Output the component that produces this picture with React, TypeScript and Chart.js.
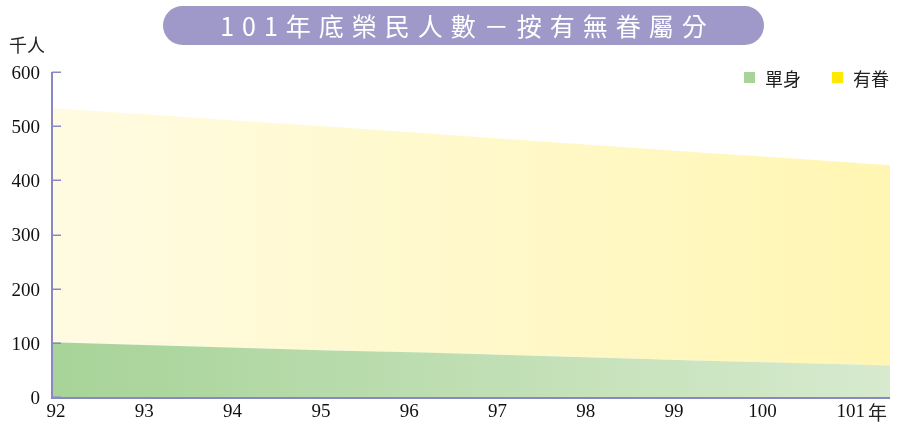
import React, { useEffect, useRef } from "react";
import { Chart, registerables } from "chart.js";

Chart.register(...registerables);

const years = [92, 93, 94, 95, 96, 97, 98, 99, 100, 101];
const xTickLabels = ["92", "93", "94", "95", "96", "97", "98", "99", "100", "101"];
const xUnit = "年";
const yUnit = "千人";
const single = [101, 96, 91, 86, 82, 77, 72, 67, 63, 58];
const withDependents = [432, 426, 419, 413, 405, 398, 391, 384, 377, 370];
const yTicks = [0, 100, 200, 300, 400, 500, 600];
const seriesNames = ["單身", "有眷"];
const title = "101年底榮民人數－按有無眷屬分";

const AXIS = "#8a88c4";
const CJK = '"Noto Sans CJK TC", "Noto Sans CJK SC", sans-serif';
const SERIF = '"Liberation Serif", "DejaVu Serif", serif';

function hGrad(chart: any, from: string, to: string) {
  const area = chart.chartArea;
  if (!area) return from;
  const g = chart.ctx.createLinearGradient(area.left, 0, area.right, 0);
  g.addColorStop(0, from);
  g.addColorStop(1, to);
  return g;
}

const axisOverlay = {
  id: "axisOverlay",
  afterDraw(chart: any) {
    const y = chart.scales.y;
    const { ctx, chartArea } = chart;
    ctx.save();
    ctx.strokeStyle = AXIS;
    ctx.lineWidth = 1.5;
    y.ticks.forEach((t: any) => {
      const py = Math.round(y.getPixelForValue(t.value)) + 0.25;
      ctx.beginPath();
      ctx.moveTo(chartArea.left, py);
      ctx.lineTo(chartArea.left + 9, py);
      ctx.stroke();
    });
    ctx.lineWidth = 2;
    ctx.beginPath();
    ctx.moveTo(chartArea.left, chartArea.top);
    ctx.lineTo(chartArea.left, chartArea.bottom + 1);
    ctx.lineTo(chartArea.right, chartArea.bottom + 1);
    ctx.stroke();
    ctx.restore();
  },
};

export default function App() {
  const ref = useRef<HTMLCanvasElement>(null);

  useEffect(() => {
    if (!ref.current) return;
    const chart = new Chart(ref.current, {
      type: "line",
      data: {
        datasets: [
          {
            label: seriesNames[0],
            data: years.map((x, i) => ({ x, y: single[i] })),
            fill: "origin",
            backgroundColor: (c: any) => hGrad(c.chart, "#a7d398", "#d7eace"),
            borderWidth: 0,
            pointRadius: 0,
            tension: 0,
          },
          {
            label: seriesNames[1],
            data: years.map((x, i) => ({ x, y: withDependents[i] })),
            fill: "-1",
            backgroundColor: (c: any) => hGrad(c.chart, "#fffbe2", "#fff6b3"),
            borderWidth: 0,
            pointRadius: 0,
            tension: 0,
          },
        ],
      },
      options: {
        responsive: false,
        animation: false,
        layout: { padding: { top: 72, right: 12, left: 0, bottom: 0 } },
        plugins: {
          legend: { display: false },
          tooltip: { enabled: false },
          title: { display: false },
        },
        scales: {
          x: {
            type: "linear",
            min: years[0],
            max: years[years.length - 1],
            display: false,
          },
          xl: {
            type: "linear",
            position: "bottom",
            min: 91.955,
            max: 101.445,
            afterBuildTicks: (axis: any) => {
              axis.ticks = years.map((v) => ({ value: v }));
            },
            afterFit: (axis: any) => {
              axis.height = 26;
            },
            grid: { display: false, drawTicks: false },
            border: { display: false },
            ticks: {
              autoSkip: false,
              maxRotation: 0,
              padding: 4,
              color: "#111",
              font: { family: SERIF, size: 19 },
              callback: (v: any) => {
                const i = years.indexOf(Number(v));
                return i >= 0 ? xTickLabels[i] : "";
              },
            },
          },
          y: {
            stacked: true,
            min: 0,
            max: 600,
            afterBuildTicks: (axis: any) => {
              axis.ticks = yTicks.map((v) => ({ value: v }));
            },
            afterFit: (axis: any) => {
              axis.width = 52;
            },
            grid: { display: false, drawTicks: false },
            border: { display: false },
            ticks: {
              padding: 12,
              labelOffset: 2,
              color: "#111",
              font: { family: SERIF, size: 19 },
            },
          },
        },
      },
      plugins: [axisOverlay],
    });
    return () => chart.destroy();
  }, []);

  return (
    <div
      style={{
        position: "fixed",
        left: 0,
        top: 0,
        width: 902,
        height: 423,
        background: "#fff",
        overflow: "hidden",
      }}
    >
      <canvas
        ref={ref}
        width={902}
        height={423}
        style={{ position: "absolute", left: 0, top: 0, width: 902, height: 423 }}
      />
      <div
        style={{
          position: "absolute",
          left: 163,
          top: 6,
          width: 601,
          height: 39,
          borderRadius: 20,
          background: "#9f99c9",
          color: "#fff",
          fontFamily: CJK,
          fontSize: 25,
          lineHeight: "39px",
          letterSpacing: "8px",
          paddingLeft: 8,
          boxSizing: "border-box",
          textAlign: "center",
          whiteSpace: "nowrap",
        }}
      >
        {title}
      </div>
      <div
        style={{
          position: "absolute",
          left: 9,
          top: 35,
          fontFamily: CJK,
          fontSize: 18,
          lineHeight: "18px",
          color: "#222",
        }}
      >
        {yUnit}
      </div>
      <div
        style={{
          position: "absolute",
          left: 868,
          top: 402,
          fontFamily: CJK,
          fontSize: 19,
          lineHeight: "19px",
          color: "#222",
        }}
      >
        {xUnit}
      </div>
      <div style={{ position: "absolute", left: 744, top: 72, width: 11, height: 11, background: "#a8d49a" }} />
      <div
        style={{
          position: "absolute",
          left: 765,
          top: 69,
          fontFamily: CJK,
          fontSize: 18,
          lineHeight: "18px",
          color: "#222",
        }}
      >
        {seriesNames[0]}
      </div>
      <div style={{ position: "absolute", left: 832, top: 72, width: 11, height: 11, background: "#ffe900" }} />
      <div
        style={{
          position: "absolute",
          left: 853,
          top: 69,
          fontFamily: CJK,
          fontSize: 18,
          lineHeight: "18px",
          color: "#222",
        }}
      >
        {seriesNames[1]}
      </div>
    </div>
  );
}
